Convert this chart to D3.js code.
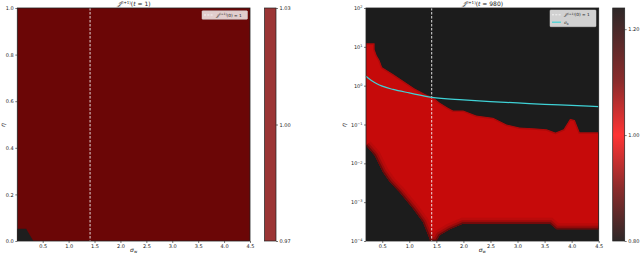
<!DOCTYPE html>
<html>
<head>
<meta charset="utf-8">
<script src="https://cdn.jsdelivr.net/npm/d3@7"></script>
<style>
  html, body { margin: 0; padding: 0; background: #fff; }
  svg text, svg tspan { font-family: "DejaVu Sans", sans-serif; fill: #222; }
</style>
</head>
<body>
<div id="chart"></div>
<script>
// ---- data ----
const xTicks = [0.5, 1.0, 1.5, 2.0, 2.5, 3.0, 3.5, 4.0, 4.5];
const leftYTicks = [0.0, 0.2, 0.4, 0.6, 0.8, 1.0];
const rightYExps = [-4, -3, -2, -1, 0, 1, 2];
const criticalSigmaW = 1.414;

// left panel: one value everywhere except a small dark corner
const leftDarkCorner = [[0.01, 0], [0.01, 0.053], [0.18, 0.053], [0.32, 0]];
const leftCbTicks = [0.97, 1.00, 1.03];

// right panel: boundary of the red (trainable) region, (sigma_w, eta)
const redUpper = [
  [0.2, 12.3], [0.36, 12.3], [0.36, 8.5], [0.4, 6.0], [0.45, 4.6], [0.5, 3.0],
  [0.7, 2.0], [0.9, 1.3], [1.1, 0.85], [1.3, 0.6], [1.44, 0.5], [1.56, 0.37],
  [1.7, 0.28], [1.81, 0.23], [2.0, 0.23], [2.24, 0.17], [2.55, 0.15], [2.8, 0.10],
  [3.04, 0.084], [3.3, 0.080], [3.54, 0.075], [3.7, 0.062], [3.85, 0.075],
  [3.97, 0.14], [4.06, 0.13], [4.15, 0.063], [4.5, 0.063]
];
const redLower = [
  [4.5, 2.0e-4], [3.72, 2.0e-4], [3.6, 2.8e-4], [1.99, 2.8e-4], [1.75, 2.0e-4],
  [1.56, 1.4e-4], [1.5, 1.0e-4], [1.38, 1.0e-4], [1.38, 1.1e-4], [1.25, 3.1e-4],
  [1.07, 6.8e-4], [0.82, 1.8e-3], [0.64, 3.3e-3], [0.51, 6.0e-3], [0.36, 1.6e-2],
  [0.2, 2.9e-2]
];

// sigma_b curve
const sigmaW = [0.2, 0.3, 0.4, 0.5, 0.7, 1.0, 1.414, 2.0, 2.5, 3.0, 3.5, 4.0, 4.5];
const sigmaB = [1.75, 1.35, 1.12, 0.97, 0.80, 0.65, 0.50, 0.43, 0.39, 0.36, 0.33, 0.31, 0.29];

// right colorbar
const rightCbTicks = [0.80, 1.00, 1.20];
const rightCbStops = [0.80, 0.90, 1.00, 1.10, 1.24];
const rightCbColors = ['#2e2828', '#8c2c2c', '#ff3434', '#8c2c2c', '#2e2828'];

// ---- layout ----
const W = 640, H = 255;
const svg = d3.select('#chart').append('svg').attr('width', W).attr('height', H);

const yTop = 8, yBot = 241;
const L = { x0: 17.3, x1: 250, domain: [0.01, 4.5] };
const R = { x0: 366, x1: 598.7, domain: [0.2, 4.5] };

const fs = 5;

function frame(g, x0, x1) {
  g.append('rect').attr('x', x0).attr('y', yTop).attr('width', x1 - x0).attr('height', yBot - yTop)
    .attr('fill', 'none').attr('stroke', '#222').attr('stroke-width', 0.8);
}

function xAxis(x) {
  const ax = svg.append('g').attr('transform', `translate(0,${yBot})`)
    .call(d3.axisBottom(x).tickValues(xTicks).tickSize(2).tickPadding(1.5).tickFormat(d3.format('.1f')));
  ax.select('.domain').remove();
  ax.selectAll('text').attr('font-size', fs);
  ax.selectAll('line').attr('stroke', '#222').attr('stroke-width', 0.6);
}

// ===== left panel =====
const xl = d3.scaleLinear().domain(L.domain).range([L.x0, L.x1]);
const yl = d3.scaleLinear().domain([0, 1]).range([yBot, yTop]);

svg.append('rect').attr('x', L.x0).attr('y', yTop).attr('width', L.x1 - L.x0).attr('height', yBot - yTop)
  .attr('fill', '#6b0606');
svg.append('path').datum(leftDarkCorner)
  .attr('d', d3.line().x(d => xl(d[0])).y(d => yl(d[1])))
  .attr('fill', '#1e1e1e');
svg.append('line').attr('x1', xl(criticalSigmaW)).attr('x2', xl(criticalSigmaW))
  .attr('y1', yTop).attr('y2', yBot)
  .attr('stroke', '#f2f2f2').attr('stroke-width', 0.9).attr('stroke-dasharray', '2.5,1.5');

xAxis(xl);
{
  const ay = svg.append('g').attr('transform', `translate(${L.x0},0)`)
    .call(d3.axisLeft(yl).tickValues(leftYTicks).tickSize(2).tickPadding(1.5).tickFormat(d3.format('.1f')));
  ay.select('.domain').remove();
  ay.selectAll('text').attr('font-size', fs);
  ay.selectAll('line').attr('stroke', '#222').attr('stroke-width', 0.6);
}
frame(svg, L.x0, L.x1);

// title / labels
function title(cx, tval) {
  const t = svg.append('text').attr('x', cx).attr('y', 6).attr('text-anchor', 'middle')
    .attr('font-size', 6).attr('fill', '#222');
  t.append('tspan').attr('font-style', 'italic').text('𝒥');
  t.append('tspan').attr('font-size', 4).attr('dy', -2.2).text('(l+1)');
  t.append('tspan').attr('dy', 2.2).text('(');
  t.append('tspan').attr('font-style', 'italic').text('t');
  t.append('tspan').text(` = ${tval})`);
}
title((L.x0 + L.x1) / 2, 1);

function yLabel(x, y) {
  svg.append('text').attr('transform', `translate(${x},${y}) rotate(-90)`)
    .attr('text-anchor', 'middle').attr('font-size', 6).attr('font-style', 'italic').text('η');
}
function xLabel(cx) {
  const t = svg.append('text').attr('x', cx).attr('y', 252).attr('text-anchor', 'middle').attr('font-size', 6);
  t.append('tspan').attr('font-style', 'italic').text('σ');
  t.append('tspan').attr('font-size', 4).attr('dy', 1.2).text('w');
}
yLabel(5, 125);
xLabel((L.x0 + L.x1) / 2);

function legendEntryText(g, x, y) {
  const t = g.append('text').attr('x', x).attr('y', y).attr('font-size', 4.3);
  t.append('tspan').attr('font-style', 'italic').text('𝒥');
  t.append('tspan').attr('font-size', 3).attr('dy', -1.6).text('(l+1)');
  t.append('tspan').attr('dy', 1.6).text('(0) = 1');
}

{
  const lg = svg.append('g');
  lg.append('rect').attr('x', 202).attr('y', 10.8).attr('width', 45.5).attr('height', 8.5).attr('rx', 0.8)
    .attr('fill', '#ffffff').attr('fill-opacity', 0.8).attr('stroke', '#cccccc').attr('stroke-width', 0.5);
  lg.append('line').attr('x1', 204).attr('x2', 213).attr('y1', 15).attr('y2', 15)
    .attr('stroke', '#f4f4f4').attr('stroke-width', 1).attr('stroke-dasharray', '2,1.3');
  legendEntryText(lg, 216, 16.6);
}

// left colorbar
{
  const cx0 = 264.5, cx1 = 276;
  const yc = d3.scaleLinear().domain([0.97, 1.03]).range([yBot, yTop]);
  svg.append('rect').attr('x', cx0).attr('y', yTop).attr('width', cx1 - cx0).attr('height', yBot - yTop)
    .attr('fill', '#9b3535').attr('stroke', '#222').attr('stroke-width', 0.7);
  const ac = svg.append('g').attr('transform', `translate(${cx1},0)`)
    .call(d3.axisRight(yc).tickValues(leftCbTicks).tickSize(2).tickPadding(1.5).tickFormat(d3.format('.2f')));
  ac.select('.domain').remove();
  ac.selectAll('text').attr('font-size', fs);
  ac.selectAll('line').attr('stroke', '#222').attr('stroke-width', 0.6);
}

// ===== right panel =====
const xr = d3.scaleLinear().domain(R.domain).range([R.x0, R.x1]);
const yr = d3.scaleLog().domain([1e-4, 1e2]).range([yBot, yTop]);

svg.append('rect').attr('x', R.x0).attr('y', yTop).attr('width', R.x1 - R.x0).attr('height', yBot - yTop)
  .attr('fill', '#1c1c1c');

const defs = svg.append('defs');
const redLine = d3.line().x(d => xr(d[0])).y(d => yr(d[1]));
defs.append('clipPath').attr('id', 'redclip').append('path')
  .attr('d', redLine(redUpper.concat(redLower)) + 'Z');

const redG = svg.append('g').attr('clip-path', 'url(#redclip)');
redG.append('path').datum(redUpper.concat(redLower))
  .attr('d', redLine)
  .attr('fill', '#c60a0a');
// darker edge band along the lower boundary (contour falloff)
[[12, '#b00a0a', 0.6], [7, '#8e0a0a', 0.7], [3, '#5a0b0b', 0.8]].forEach(([w, c, o]) => {
  redG.append('path').datum(redLower).attr('d', redLine)
    .attr('fill', 'none').attr('stroke', c).attr('stroke-width', w).attr('stroke-opacity', o);
});
redG.append('path').datum(redUpper).attr('d', redLine)
  .attr('fill', 'none').attr('stroke', '#9a0a0a').attr('stroke-width', 3).attr('stroke-opacity', 0.6);

svg.append('line').attr('x1', xr(criticalSigmaW)).attr('x2', xr(criticalSigmaW))
  .attr('y1', yTop).attr('y2', yBot)
  .attr('stroke', '#f2f2f2').attr('stroke-width', 0.9).attr('stroke-dasharray', '2.5,1.5');

svg.append('path').datum(d3.zip(sigmaW, sigmaB))
  .attr('d', d3.line().x(d => xr(d[0])).y(d => yr(d[1])).curve(d3.curveMonotoneX))
  .attr('fill', 'none').attr('stroke', '#3fd2d6').attr('stroke-width', 1.2);

xAxis(xr);
{
  const ay = svg.append('g').attr('transform', `translate(${R.x0},0)`)
    .call(d3.axisLeft(yr).tickValues(rightYExps.map(e => Math.pow(10, e))).tickSize(2).tickPadding(1.5).tickFormat(''));
  ay.select('.domain').remove();
  ay.selectAll('line').attr('stroke', '#222').attr('stroke-width', 0.6);
  ay.selectAll('.tick').each(function (d, i) {
    const t = d3.select(this).append('text').attr('x', -3.5).attr('dy', '0.32em')
      .attr('text-anchor', 'end').attr('font-size', fs);
    t.append('tspan').text('10');
    t.append('tspan').attr('font-size', 3.5).attr('dy', -1.8).text(rightYExps[i] < 0 ? '−' + (-rightYExps[i]) : rightYExps[i]);
  });
}
frame(svg, R.x0, R.x1);
title((R.x0 + R.x1) / 2, 980);
yLabel(346, 125);
xLabel((R.x0 + R.x1) / 2);

{
  const lg = svg.append('g');
  lg.append('rect').attr('x', 550).attr('y', 10).attr('width', 46).attr('height', 16.7).attr('rx', 0.8)
    .attr('fill', '#ffffff').attr('fill-opacity', 0.8).attr('stroke', '#cccccc').attr('stroke-width', 0.5);
  lg.append('line').attr('x1', 552).attr('x2', 561).attr('y1', 14.8).attr('y2', 14.8)
    .attr('stroke', '#f4f4f4').attr('stroke-width', 1).attr('stroke-dasharray', '2,1.3');
  legendEntryText(lg, 564, 16.4);
  lg.append('line').attr('x1', 552).attr('x2', 561).attr('y1', 22.2).attr('y2', 22.2)
    .attr('stroke', '#3fd2d6').attr('stroke-width', 1.2);
  const t = lg.append('text').attr('x', 564).attr('y', 23.8).attr('font-size', 4.3);
  t.append('tspan').attr('font-style', 'italic').text('σ');
  t.append('tspan').attr('font-size', 3).attr('dy', 1).text('b');
}

// right colorbar
{
  const cx0 = 612.7, cx1 = 624.7;
  const yc = d3.scaleLinear().domain([0.8, 1.24]).range([yBot, yTop]);
  const grad = defs.append('linearGradient').attr('id', 'cbr')
    .attr('x1', 0).attr('x2', 0).attr('y1', 1).attr('y2', 0);
  rightCbStops.forEach((v, i) => {
    grad.append('stop').attr('offset', (v - 0.8) / 0.44).attr('stop-color', rightCbColors[i]);
  });
  svg.append('rect').attr('x', cx0).attr('y', yTop).attr('width', cx1 - cx0).attr('height', yBot - yTop)
    .attr('fill', 'url(#cbr)').attr('stroke', '#222').attr('stroke-width', 0.7);
  const ac = svg.append('g').attr('transform', `translate(${cx1},0)`)
    .call(d3.axisRight(yc).tickValues(rightCbTicks).tickSize(2).tickPadding(1.5).tickFormat(d3.format('.2f')));
  ac.select('.domain').remove();
  ac.selectAll('text').attr('font-size', fs);
  ac.selectAll('line').attr('stroke', '#222').attr('stroke-width', 0.6);
}
</script>
</body>
</html>
